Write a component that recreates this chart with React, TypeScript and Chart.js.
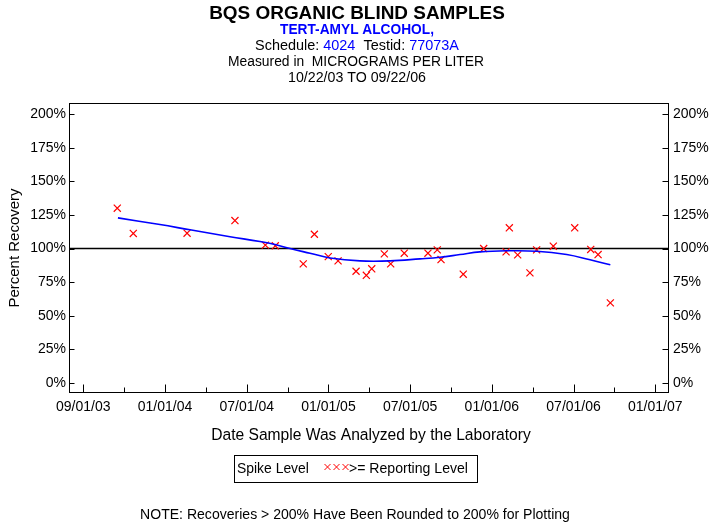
import React, { useEffect, useRef } from "react";
import { Chart, registerables } from "chart.js";
Chart.register(...registerables);

// Sample dates as decimal years and percent recoveries
const sampleDates = [
  2003.708, 2003.806, 2004.135, 2004.428, 2004.614, 2004.675, 2004.846, 2004.914,
  2004.999, 2005.059, 2005.169, 2005.232, 2005.265, 2005.342, 2005.381, 2005.464,
  2005.609, 2005.666, 2005.689, 2005.825, 2005.95, 2006.087, 2006.107, 2006.158,
  2006.233, 2006.274, 2006.376, 2006.507, 2006.605, 2006.65, 2006.725,
];
const recoveries = [
  130, 111.2, 111.4, 120.8, 102.5, 102, 88.6, 110.6,
  94, 90.8, 83.1, 80.1, 84.9, 96, 88.6, 96.5,
  96.5, 99, 91.8, 80.9, 100, 97.5, 115.4, 95.3,
  81.9, 99, 101.7, 115.4, 99.3, 95.5, 59.6,
];
// Smoothed trend line
const trendDates = [
  2003.712, 2003.969, 2004.153, 2004.398, 2004.581, 2004.673, 2004.765, 2004.887,
  2005.01, 2005.193, 2005.377, 2005.56, 2005.682, 2005.805, 2005.927, 2006.091,
  2006.274, 2006.458, 2006.601, 2006.725,
];
const trendValues = [
  122.8, 117.8, 113.9, 108.8, 105.2, 103, 100, 96.5,
  93, 90.8, 90.8, 92.3, 93.5, 95.5, 97.5, 98.3,
  98, 95.5, 91.6, 87.9,
];
const yTickValues = [0, 25, 50, 75, 100, 125, 150, 175, 200];
const xTickValues = [
  2003.5, 2003.75, 2004.0, 2004.25, 2004.5, 2004.75, 2005.0, 2005.25,
  2005.5, 2005.75, 2006.0, 2006.25, 2006.5, 2006.75, 2007.0,
];
const xTickLabels = [
  "09/01/03", "", "01/01/04", "", "07/01/04", "", "01/01/05", "",
  "07/01/05", "", "01/01/06", "", "07/01/06", "", "01/01/07",
];
const majorTicks = [true, false, true, false, true, false, true, false, true, false, true, false, true, false, true];

const FONT = '"Liberation Sans", Arial, sans-serif';
const BLUE = "#0000ff";
const RED = "#ff0000";

function fitSize(ctx: CanvasRenderingContext2D, text: string, width: number, bold: boolean) {
  ctx.font = `${bold ? "bold " : ""}100px ${FONT}`;
  const w = ctx.measureText(text).width;
  return (100 * width) / w;
}

function drawFit(ctx: CanvasRenderingContext2D, text: string, cx: number, cy: number, width: number, bold: boolean, color: string) {
  const s = fitSize(ctx, text, width, bold);
  ctx.font = `${bold ? "bold " : ""}${s}px ${FONT}`;
  ctx.fillStyle = color;
  ctx.textAlign = "center";
  ctx.textBaseline = "middle";
  ctx.fillText(text, cx, cy);
}

function drawX(ctx: CanvasRenderingContext2D, x: number, y: number, r: number) {
  ctx.beginPath();
  ctx.moveTo(x - r, y - r);
  ctx.lineTo(x + r, y + r);
  ctx.moveTo(x - r, y + r);
  ctx.lineTo(x + r, y - r);
  ctx.stroke();
}

const decorPlugin = {
  id: "decor",
  beforeDatasetsDraw(chart: any) {
    const ctx = chart.ctx as CanvasRenderingContext2D;
    const { left, right } = chart.chartArea;
    const y = chart.scales.y.getPixelForValue(100);
    ctx.save();
    ctx.strokeStyle = "#000";
    ctx.lineWidth = 1.6;
    ctx.beginPath();
    ctx.moveTo(left, y);
    ctx.lineTo(right, y);
    ctx.stroke();
    ctx.restore();
  },
  afterDraw(chart: any) {
    const ctx = chart.ctx as CanvasRenderingContext2D;
    const { left, right, top, bottom } = chart.chartArea;
    const ys = chart.scales.y;
    const xs = chart.scales.x;
    ctx.save();
    ctx.strokeStyle = "#000";
    ctx.lineWidth = 1;
    const L = Math.round(left) + 0.5;
    const R = Math.round(right) - 0.5;
    const T = Math.round(top) + 0.5;
    const B = Math.round(bottom) - 0.5;
    ctx.strokeRect(L, T, R - L, B - T);
    ctx.beginPath();
    yTickValues.forEach((v) => {
      const py = Math.round(ys.getPixelForValue(v)) + 0.5;
      ctx.moveTo(L, py);
      ctx.lineTo(L + 5, py);
      ctx.moveTo(R, py);
      ctx.lineTo(R - 6, py);
    });
    xTickValues.forEach((v, i) => {
      const px = Math.round(xs.getPixelForValue(v)) + 0.5;
      ctx.moveTo(px, B);
      ctx.lineTo(px, B - (majorTicks[i] ? 8 : 5));
    });
    ctx.stroke();

    // Titles
    drawFit(ctx, "BQS ORGANIC BLIND SAMPLES", 357, 14, 296, true, "#000");
    drawFit(ctx, "TERT-AMYL ALCOHOL,", 357, 30, 154, true, BLUE);
    const parts: [string, string][] = [
      ["Schedule: ", "#000"],
      ["4024", BLUE],
      ["  Testid: ", "#000"],
      ["77073A", BLUE],
    ];
    const full = parts.map((p) => p[0]).join("");
    const s = fitSize(ctx, full, 204, false);
    ctx.font = `${s}px ${FONT}`;
    ctx.textAlign = "left";
    ctx.textBaseline = "middle";
    let x = 357 - ctx.measureText(full).width / 2;
    parts.forEach(([t, c]) => {
      ctx.fillStyle = c;
      ctx.fillText(t, x, 46);
      x += ctx.measureText(t).width;
    });
    drawFit(ctx, "Measured in  MICROGRAMS PER LITER", 356, 62, 256, false, "#000");
    drawFit(ctx, "10/22/03 TO 09/22/06", 357, 78, 138, false, "#000");

    // Axis titles
    ctx.save();
    ctx.translate(15, 248);
    ctx.rotate(-Math.PI / 2);
    drawFit(ctx, "Percent Recovery", 0, 0, 119, false, "#000");
    ctx.restore();
    drawFit(ctx, "Date Sample Was Analyzed by the Laboratory", 371, 436, 320, false, "#000");

    // Legend
    ctx.strokeStyle = "#000";
    ctx.lineWidth = 1;
    ctx.strokeRect(234.5, 455.5, 243, 27);
    const ls = fitSize(ctx, "Spike Level", 72, false);
    ctx.font = `${ls}px ${FONT}`;
    ctx.fillStyle = "#000";
    ctx.textAlign = "left";
    ctx.textBaseline = "middle";
    ctx.fillText("Spike Level", 237, 469);
    const rs = fitSize(ctx, ">= Reporting Level", 119, false);
    ctx.font = `${rs}px ${FONT}`;
    ctx.fillText(">= Reporting Level", 349, 469);
    ctx.strokeStyle = RED;
    [327.5, 336.5, 345.5].forEach((cx) => drawX(ctx, cx, 467, 3));

    // Note
    drawFit(ctx, "NOTE: Recoveries > 200% Have Been Rounded to 200% for Plotting", 355, 515, 430, false, "#000");
    ctx.restore();
  },
};

export default function App() {
  const ref = useRef<HTMLCanvasElement | null>(null);
  useEffect(() => {
    if (!ref.current) return;
    const yMin = -7.43;
    const yMax = 208.2;
    const tickFont = { family: FONT, size: 14 };
    const noGrid = { display: false, drawTicks: false, tickLength: 0 };
    const chart = new Chart(ref.current, {
      type: "scatter",
      data: {
        datasets: [
          {
            type: "line",
            label: "trend",
            data: trendDates.map((x, i) => ({ x, y: trendValues[i] })),
            borderColor: BLUE,
            borderWidth: 1.6,
            pointRadius: 0,
            tension: 0.4,
            fill: false,
          } as any,
          {
            label: "samples",
            data: sampleDates.map((x, i) => ({ x, y: recoveries[i] })),
            pointStyle: "crossRot",
            pointRadius: 5,
            borderColor: RED,
            backgroundColor: RED,
            borderWidth: 1.2,
            showLine: false,
          },
        ],
      },
      options: {
        animation: false,
        responsive: false,
        devicePixelRatio: 1,
        layout: { padding: { top: 103, left: 0, right: 0, bottom: 0 } },
        plugins: { legend: { display: false }, tooltip: { enabled: false }, title: { display: false } },
        scales: {
          x: {
            type: "linear",
            min: 2003.4126,
            max: 2007.0839,
            grid: noGrid,
            border: { display: false },
            afterBuildTicks: (s: any) => {
              s.ticks = xTickValues.map((v) => ({ value: v }));
            },
            afterFit: (s: any) => {
              s.height = 130;
            },
            ticks: {
              autoSkip: false,
              maxRotation: 0,
              minRotation: 0,
              padding: 6,
              color: "#000",
              font: tickFont,
              callback: (v: any) => {
                const i = xTickValues.findIndex((t) => Math.abs(t - Number(v)) < 1e-6);
                return i >= 0 ? xTickLabels[i] : "";
              },
            },
          },
          y: {
            type: "linear",
            position: "left",
            min: yMin,
            max: yMax,
            grid: noGrid,
            border: { display: false },
            afterBuildTicks: (s: any) => {
              s.ticks = yTickValues.map((v) => ({ value: v }));
            },
            afterFit: (s: any) => {
              s.width = 69;
            },
            ticks: { padding: 3, color: "#000", font: tickFont, callback: (v: any) => `${v}%` },
          },
          y2: {
            type: "linear",
            position: "right",
            min: yMin,
            max: yMax,
            grid: noGrid,
            border: { display: false },
            afterBuildTicks: (s: any) => {
              s.ticks = yTickValues.map((v) => ({ value: v }));
            },
            afterFit: (s: any) => {
              s.width = 44;
            },
            ticks: { padding: 4, color: "#000", font: tickFont, callback: (v: any) => `${v}%` },
          },
        },
      } as any,
      plugins: [decorPlugin],
    });
    return () => chart.destroy();
  }, []);
  return (
    <div style={{ position: "fixed", left: 0, top: 0, width: 713, height: 523, background: "#fff" }}>
      <canvas ref={ref} width={713} height={523} style={{ width: 713, height: 523, display: "block" }} />
    </div>
  );
}
